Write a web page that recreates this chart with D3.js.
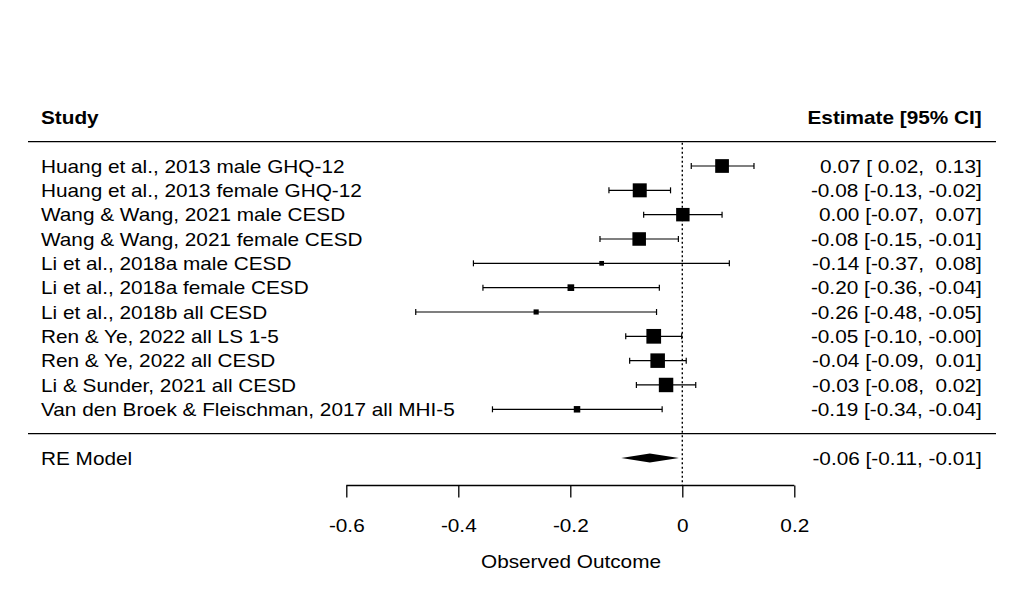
<!DOCTYPE html>
<html>
<head>
<meta charset="utf-8">
<script src="https://cdn.jsdelivr.net/npm/d3@7"></script>
<style>
  body { margin: 0; background: #fff; }
  svg text { font-family: "Liberation Sans", Arial, sans-serif; fill: #000; white-space: pre; }
</style>
</head>
<body>
<svg id="chart" width="1024" height="615"></svg>
<script>
// study rows, top to bottom
const studies = [
  "Huang et al., 2013 male GHQ-12",
  "Huang et al., 2013 female GHQ-12",
  "Wang & Wang, 2021 male CESD",
  "Wang & Wang, 2021 female CESD",
  "Li et al., 2018a male CESD",
  "Li et al., 2018a female CESD",
  "Li et al., 2018b all CESD",
  "Ren & Ye, 2022 all LS 1-5",
  "Ren & Ye, 2022 all CESD",
  "Li & Sunder, 2021 all CESD",
  "Van den Broek & Fleischman, 2017 all MHI-5"
];
const estimates = [0.071, -0.076, 0.001, -0.077, -0.144, -0.199, -0.261, -0.051, -0.044, -0.029, -0.188];
const ciLower = [0.016, -0.131, -0.069, -0.147, -0.373, -0.356, -0.476, -0.101, -0.094, -0.082, -0.339];
const ciUpper = [0.128, -0.021, 0.071, -0.007, 0.084, -0.041, -0.046, -0.001, 0.007, 0.024, -0.036];
const weights = [12.1, 12.4, 11.8, 11.9, 2.0, 4.2, 2.5, 13.2, 13.0, 12.9, 4.0];

// pooled random-effects estimate
const reModel = { label: "RE Model", est: -0.058, lo: -0.109, hi: -0.006 };

const xTicks = [-0.6, -0.4, -0.2, 0, 0.2];

const svg = d3.select("#chart");

const x = d3.scaleLinear().domain([-0.6, 0.2]).range([346.3, 794.3]);
// row slots: -2 header, -1 header rule, 0..10 studies, 11 rule, 12 RE model
const y = d3.scaleLinear().domain([0, 10]).range([166, 409.3]);
const size = d3.scaleLinear().domain(d3.extent(weights)).range([4.7, 14.7]);

const fontSize = 18.8;
const sx = 1.105; // the original text is set a bit wide
const textShift = 6.7;
const leftX = 41, rightX = 981.7;
const ruleX0 = 28, ruleX1 = 996;
const axisY = 485.5;

const fmt = (v) => v.toFixed(2);
const pad = (s, n) => s.padStart(n, " ");
const ciText = (e, l, u) => `${fmt(e)} [${pad(fmt(l), 5)}, ${pad(fmt(u), 5)}]`;

// put text at (px, py) with the horizontal stretch
const place = (sel, px, py) =>
  sel.attr("transform", (d, i) => {
    const tx = typeof px === "function" ? px(d, i) : px;
    const ty = typeof py === "function" ? py(d, i) : py;
    return `translate(${tx},${ty}) scale(${sx},1)`;
  });

const rows = studies.map((name, i) => ({
  name, est: estimates[i], lo: ciLower[i], hi: ciUpper[i], w: weights[i], k: i
}));

// header
svg.append("text")
  .attr("font-size", fontSize).attr("font-weight", "bold")
  .call(place, leftX, y(-2) + textShift)
  .text("Study");
svg.append("text")
  .attr("font-size", fontSize).attr("font-weight", "bold")
  .attr("text-anchor", "end")
  .call(place, rightX, y(-2) + textShift)
  .text("Estimate [95% CI]");

// horizontal rules
[-1, 11].forEach((k) => {
  svg.append("line")
    .attr("x1", ruleX0).attr("x2", ruleX1)
    .attr("y1", y(k)).attr("y2", y(k))
    .attr("stroke", "#000").attr("stroke-width", 1.3);
});

// reference line at zero
svg.append("line")
  .attr("x1", x(0)).attr("x2", x(0))
  .attr("y1", y(-1) + 1).attr("y2", axisY)
  .attr("stroke", "#000").attr("stroke-width", 1.4)
  .attr("stroke-dasharray", "2,2.5");

// study rows
const row = svg.selectAll(".row").data(rows).enter()
  .append("g").attr("class", "row");

row.append("text")
  .attr("font-size", fontSize)
  .call(place, leftX, (d) => y(d.k) + textShift)
  .text((d) => d.name);

row.append("text")
  .attr("font-size", fontSize).attr("text-anchor", "end")
  .call(place, rightX, (d) => y(d.k) + textShift)
  .text((d) => ciText(d.est, d.lo, d.hi));

row.append("line")
  .attr("x1", (d) => x(d.lo)).attr("x2", (d) => x(d.hi))
  .attr("y1", (d) => y(d.k)).attr("y2", (d) => y(d.k))
  .attr("stroke", "#000").attr("stroke-width", 1.2);

["lo", "hi"].forEach((end) => {
  row.append("line")
    .attr("x1", (d) => x(d[end])).attr("x2", (d) => x(d[end]))
    .attr("y1", (d) => y(d.k) - 3).attr("y2", (d) => y(d.k) + 3)
    .attr("stroke", "#000").attr("stroke-width", 1.2);
});

row.append("rect")
  .attr("x", (d) => x(d.est) - size(d.w) / 2)
  .attr("y", (d) => y(d.k) - size(d.w) / 2)
  .attr("width", (d) => size(d.w))
  .attr("height", (d) => size(d.w))
  .attr("fill", "#000");

// RE model summary
const yRE = y(12);
svg.append("text")
  .attr("font-size", fontSize)
  .call(place, leftX, yRE + textShift)
  .text(reModel.label);
svg.append("text")
  .attr("font-size", fontSize).attr("text-anchor", "end")
  .call(place, rightX, yRE + textShift)
  .text(ciText(reModel.est, reModel.lo, reModel.hi));
svg.append("polygon")
  .attr("points", [
    [x(reModel.lo), yRE], [x(reModel.est), yRE - 4.5],
    [x(reModel.hi), yRE], [x(reModel.est), yRE + 4.5]
  ].map((p) => p.join(",")).join(" "))
  .attr("fill", "#000");

// x axis
const axis = svg.append("g")
  .attr("transform", `translate(0,${axisY})`)
  .call(d3.axisBottom(x).tickValues(xTicks).tickSize(12)
    .tickFormat((d) => (d === 0 ? "0" : d3.format(".1f")(d).replace("−", "-"))));
axis.select(".domain").attr("d", `M${x(-0.6)},0H${x(0.2)}`).attr("stroke-width", 1.3);
axis.selectAll(".tick line").attr("stroke-width", 1.3);
axis.selectAll(".tick text")
  .attr("font-size", fontSize)
  .attr("font-family", "Liberation Sans, Arial, sans-serif")
  .attr("dy", null).attr("y", null)
  .attr("transform", `translate(0,46.2) scale(${sx},1)`);

svg.append("text")
  .attr("font-size", fontSize).attr("text-anchor", "middle")
  .call(place, 571, 568)
  .text("Observed Outcome");
</script>
</body>
</html>
